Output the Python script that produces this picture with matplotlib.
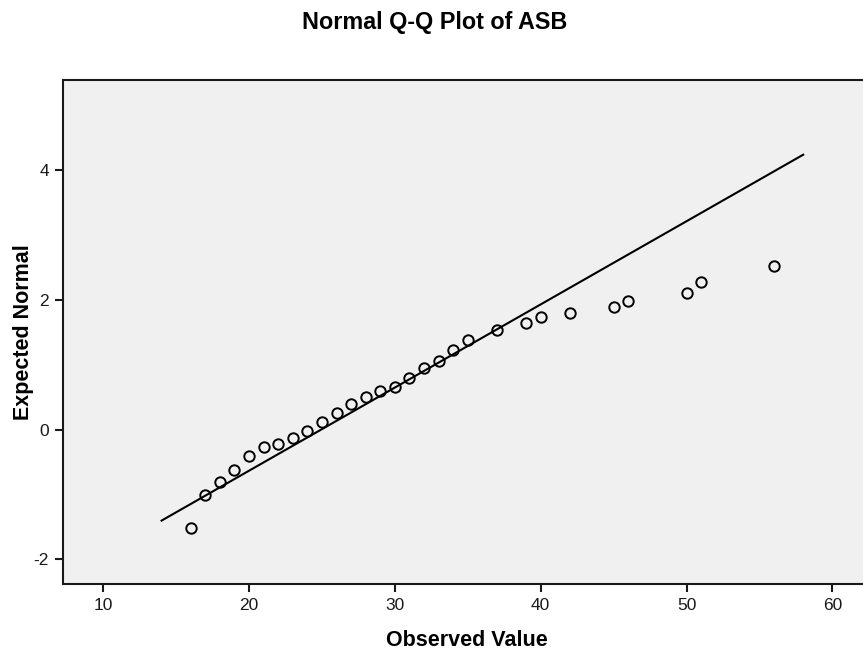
import matplotlib
matplotlib.use("Agg")
import matplotlib.pyplot as plt
import numpy as np

plt.rcParams['font.family'] = ['Liberation Sans', 'DejaVu Sans']

# Data
observed = [16, 17, 18, 19, 20, 21, 22, 23, 24, 25, 26, 27, 28, 29, 30,
            31, 32, 33, 34, 35, 37, 39, 40, 42, 45, 46, 50, 51, 56]
expected = [-1.52, -1.01, -0.81, -0.62, -0.40, -0.27, -0.22, -0.13, -0.02,
            0.12, 0.25, 0.39, 0.51, 0.59, 0.65, 0.80, 0.95, 1.06, 1.22,
            1.38, 1.54, 1.64, 1.73, 1.80, 1.89, 1.98, 2.10, 2.27, 2.52]
line_x = [14, 58]
mean_val = 24.94
sd_val = 7.80
x_ticks = [10, 20, 30, 40, 50, 60]
y_ticks = [-2, 0, 2, 4]

fig = plt.figure(figsize=(8.63, 6.54), dpi=100)
ax = fig.add_axes([63/863, 1-584/654, 1-63/863, (584-80)/654])
ax.set_facecolor('#F0F0F0')

line_y = [(v - mean_val) / sd_val for v in line_x]
ax.plot(line_x, line_y, color='black', lw=1.5, zorder=2)
ax.plot(observed, expected, linestyle='none', marker='o', markersize=7.5,
        markerfacecolor='none', markeredgecolor='black', markeredgewidth=1.4, zorder=3)

ax.set_xlim(7.24, 62.1)
ax.set_ylim(-2.38, 5.39)
ax.set_xticks(x_ticks)
ax.set_yticks(y_ticks)
ax.set_xticklabels([str(t) for t in x_ticks])
ax.set_yticklabels([str(t) for t in y_ticks])

for s in ['left', 'bottom', 'top']:
    ax.spines[s].set_linewidth(1.5)
    ax.spines[s].set_color('#1a1a1a')
ax.spines['right'].set_visible(False)

ax.tick_params(axis='both', direction='out', length=6, width=1.5, labelsize=12.5,
               color='#1a1a1a', labelcolor='#1a1a1a', pad=4)

fig.text(467/863, 1-640/654, 'Observed Value', ha='center', va='center',
         fontsize=15.5, fontweight='bold')
fig.text(23/863, 1-332/654, 'Expected Normal', ha='center', va='center',
         rotation=90, fontsize=15.5, fontweight='bold')
fig.text(435/863, 1-22/654, 'Normal Q-Q Plot of ASB', ha='center', va='center',
         fontsize=16.8, fontweight='bold')

fig.savefig('out.png', dpi=100)
